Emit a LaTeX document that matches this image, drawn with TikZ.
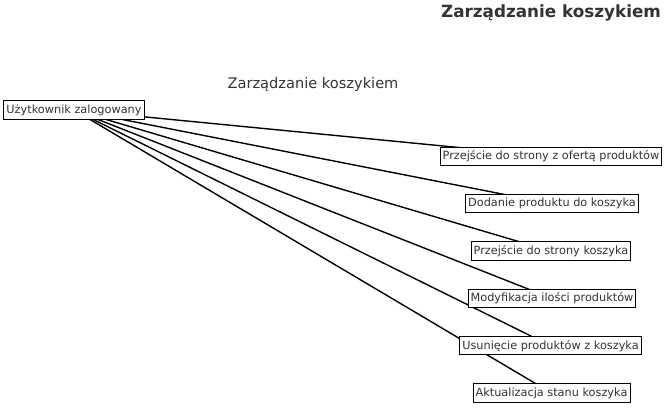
\documentclass[tikz,border=0pt]{standalone}
\usepackage{fontspec}
\setmainfont{DejaVu Sans}
\usetikzlibrary{backgrounds}
\begin{document}
\begin{tikzpicture}[x=1pt,y=1pt,actor/.style={shape=rectangle,draw=black,fill=white,line width=1pt,inner xsep=2.6pt,inner ysep=3.6pt,text=black!80,font=\fontsize{11.3}{13}\selectfont},task/.style={actor},link/.style={line width=1.4pt,black}]
\def\dy{-47.3};
\def\xc{551};
\def\yc{-156.5};

\useasboundingbox (0,0) rectangle (669,-415);

\node[font=\bfseries\fontsize{16.8}{20}\selectfont,text=black!80] (title) at (551,-13) {Zarządzanie koszykiem};
\node[font=\fontsize{14.6}{17}\selectfont,text=black!80] (subtitle) at (313,-84) {Zarządzanie koszykiem};

\node[actor] (U) at (74,-110) {Użytkownik zalogowany};

\node[task] (T1) at (\xc,\yc) {Przejście do strony z ofertą produktów};
\node[task] (T2) at (\xc+1,\yc+\dy) {Dodanie produktu do koszyka};
\node[task] (T3) at (\xc,\yc+2*\dy) {Przejście do strony koszyka};
\node[task] (T4) at (\xc+1,\yc+3*\dy) {Modyfikacja ilości produktów};
\node[task] (T5) at (\xc-0.5,\yc+4*\dy) {Usunięcie produktów z koszyka};
\node[task] (T6) at (\xc+0.5,\yc+5*\dy) {Aktualizacja stanu koszyka};

%LINKS behind the boxes
\begin{scope}[on background layer]
\draw[link] (U.center) -- (T1.center);
\draw[link] (U.center) -- (T2.center);
\draw[link] (U.center) -- (T3.center);
\draw[link] (U.center) -- (T4.center);
\draw[link] (U.center) -- (T5.center);
\draw[link] (U.center) -- (T6.center);
\end{scope}
\end{tikzpicture}
\end{document}
